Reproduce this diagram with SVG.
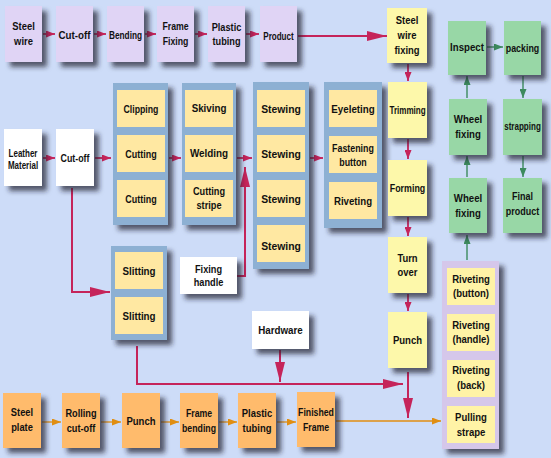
<svg xmlns="http://www.w3.org/2000/svg" width="551" height="458" viewBox="0 0 551 458">
<style>
text{font-family:"Liberation Sans",Arial,sans-serif;font-weight:bold;font-size:11.5px;fill:#111;text-anchor:middle}
.sh{filter:url(#sh)}
.pu{fill:#e0d4f5}
.pb{fill:#8db0d3}
.iy{fill:#ffe8a2}
.ry{fill:#fdf8aa}
.gr{fill:#98d7a6}
.or{fill:#ffbb6c}
.wh{fill:#ffffff}
.rp{fill:#d5c7ea}
.ry2{fill:#fff3a6}
.pk{stroke:#c5245a;stroke-width:1.8;fill:none}
.pk2{stroke:#c5245a;stroke-width:2;fill:none}
.gn{stroke:#3c8a5e;stroke-width:1.4;fill:none}
.og{stroke:#e08e12;stroke-width:1.3;fill:none}
</style>
<defs>
<filter id="sh" x="-30%" y="-30%" width="160%" height="160%">
<feDropShadow dx="5" dy="5" stdDeviation="2.8" flood-color="#223" flood-opacity="0.72"/>
</filter>
<marker id="aps" markerUnits="userSpaceOnUse" markerWidth="9" markerHeight="7" refX="9" refY="3.5" orient="auto"><path d="M0,0 L9,3.5 L0,7 z" fill="#c5245a"/></marker>
<marker id="apb" markerUnits="userSpaceOnUse" markerWidth="20" markerHeight="10" refX="20" refY="5" orient="auto"><path d="M0,0 L20,5 L0,10 z" fill="#c5245a"/></marker>
<marker id="ags" markerUnits="userSpaceOnUse" markerWidth="9" markerHeight="7" refX="9" refY="3.5" orient="auto"><path d="M0,0 L9,3.5 L0,7 z" fill="#3c8a5e"/></marker>
<marker id="aos" markerUnits="userSpaceOnUse" markerWidth="9" markerHeight="7" refX="9" refY="3.5" orient="auto"><path d="M0,0 L9,3.5 L0,7 z" fill="#e08e12"/></marker>
</defs>
<rect x="0" y="0" width="551" height="458" fill="#cddcf8"/>

<g id="connectors">
<line class="pk" x1="43" y1="34" x2="55" y2="34" marker-end="url(#aps)"/>
<line class="pk" x1="94" y1="34" x2="106" y2="34" marker-end="url(#aps)"/>
<line class="pk" x1="145" y1="34" x2="156" y2="34" marker-end="url(#aps)"/>
<line class="pk" x1="195" y1="34" x2="207" y2="34" marker-end="url(#aps)"/>
<line class="pk" x1="246" y1="34" x2="259" y2="34" marker-end="url(#aps)"/>
<line class="pk" x1="298" y1="36" x2="387" y2="36" marker-end="url(#apb)"/>
<line class="pk" x1="408" y1="64" x2="408" y2="81" marker-end="url(#aps)"/>
<line class="pk" x1="408" y1="139" x2="408" y2="159" marker-end="url(#aps)"/>
<line class="pk" x1="408" y1="217" x2="408" y2="236" marker-end="url(#aps)"/>
<line class="pk" x1="408" y1="294" x2="408" y2="311" marker-end="url(#aps)"/>
<line class="pk2" x1="408" y1="372" x2="408" y2="418" marker-end="url(#apb)"/>
<line class="pk" x1="43" y1="158" x2="55" y2="158" marker-end="url(#aps)"/>
<line class="pk" x1="95" y1="158" x2="111" y2="158" marker-end="url(#aps)"/>
<line class="pk" x1="169" y1="158" x2="181" y2="158" marker-end="url(#aps)"/>
<line class="pk" x1="237" y1="158" x2="252" y2="158" marker-end="url(#aps)"/>
<line class="pk" x1="310" y1="158" x2="323" y2="158" marker-end="url(#aps)"/>
<path class="pk2" d="M72,188 V292 H110" marker-end="url(#apb)"/>
<path class="pk2" d="M237,276 H245 V167" marker-end="url(#apb)"/>
<path class="pk2" d="M137,346 V384 H403" marker-end="url(#apb)"/>
<line class="pk2" x1="280" y1="350" x2="280" y2="382" marker-end="url(#apb)"/>
<line class="gn" x1="487" y1="47" x2="503" y2="47" marker-end="url(#ags)"/>
<line class="gn" x1="467" y1="98" x2="467" y2="76" marker-end="url(#ags)"/>
<line class="gn" x1="467" y1="177" x2="467" y2="156" marker-end="url(#ags)"/>
<line class="gn" x1="467" y1="260" x2="467" y2="235" marker-end="url(#ags)"/>
<line class="gn" x1="523" y1="76" x2="523" y2="98" marker-end="url(#ags)"/>
<line class="gn" x1="523" y1="156" x2="523" y2="177" marker-end="url(#ags)"/>
<line class="og" x1="42" y1="422" x2="61" y2="422" marker-end="url(#aos)"/>
<line class="og" x1="101" y1="422" x2="121" y2="422" marker-end="url(#aos)"/>
<line class="og" x1="161" y1="422" x2="179" y2="422" marker-end="url(#aos)"/>
<line class="og" x1="219" y1="422" x2="237" y2="422" marker-end="url(#aos)"/>
<line class="og" x1="277" y1="422" x2="296" y2="422" marker-end="url(#aos)"/>
<line class="og" x1="336" y1="421" x2="441" y2="421" marker-end="url(#aos)"/>
</g>

<!-- top row -->
<g id="steel-wire"><rect class="pu sh" x="5" y="6" width="37" height="56"/><text transform="translate(23.5 30) scale(.82 1)"><tspan x="0">Steel</tspan><tspan x="0" dy="15">wire</tspan></text></g>
<g id="cut-off-1"><rect class="pu sh" x="56" y="6" width="37" height="56"/><text transform="translate(74.5 38.5) scale(.85 1)">Cut-off</text></g>
<g id="bending"><rect class="pu sh" x="107" y="6" width="37" height="56"/><text transform="translate(125.5 38.5) scale(.72 1)">Bending</text></g>
<g id="frame-fixing"><rect class="pu sh" x="157" y="6" width="37" height="56"/><text transform="translate(175.5 30) scale(.76 1)"><tspan x="0">Frame</tspan><tspan x="0" dy="15">Fixing</tspan></text></g>
<g id="plastic-tubing-1"><rect class="pu sh" x="208" y="6" width="37" height="56"/><text transform="translate(226.5 30.5) scale(.8 1)"><tspan x="0">Plastic</tspan><tspan x="0" dy="15">tubing</tspan></text></g>
<g id="product"><rect class="pu sh" x="260" y="6" width="37" height="56"/><text transform="translate(278.5 39.5) scale(.7 1)">Product</text></g>
<g id="steel-wire-fixing"><rect class="ry sh" x="387" y="8" width="40" height="55"/><text transform="translate(407 24) scale(.82 1)"><tspan x="0">Steel</tspan><tspan x="0" dy="15">wire</tspan><tspan x="0" dy="15">fixing</tspan></text></g>

<!-- green -->
<g id="inspect"><rect class="gr sh" x="448" y="21" width="38" height="54"/><text transform="translate(467 51) scale(.84 1)">Inspect</text></g>
<g id="packing"><rect class="gr sh" x="504" y="21" width="37" height="54"/><text transform="translate(522.5 52) scale(.77 1)">packing</text></g>
<g id="wheel-fixing-1"><rect class="gr sh" x="449" y="99" width="38" height="56"/><text transform="translate(468 123) scale(.84 1)"><tspan x="0">Wheel</tspan><tspan x="0" dy="15">fixing</tspan></text></g>
<g id="strapping"><rect class="gr sh" x="503" y="99" width="39" height="56"/><text transform="translate(522.5 130) scale(.7 1)">strapping</text></g>
<g id="wheel-fixing-2"><rect class="gr sh" x="449" y="178" width="38" height="55"/><text transform="translate(468 202) scale(.84 1)"><tspan x="0">Wheel</tspan><tspan x="0" dy="15">fixing</tspan></text></g>
<g id="final-product"><rect class="gr sh" x="503" y="178" width="39" height="55"/><text transform="translate(522.5 200) scale(.78 1)"><tspan x="0">Final</tspan><tspan x="0" dy="15">product</tspan></text></g>

<!-- leather -->
<g id="leather-material"><rect class="wh sh" x="4" y="129" width="38" height="57"/><text style="font-size:10px" transform="translate(23 157) scale(.8 1)"><tspan x="0">Leather</tspan><tspan x="0" dy="12">Material</tspan></text></g>
<g id="cut-off-2"><rect class="wh sh" x="56" y="129" width="38" height="57"/><text transform="translate(75 162) scale(.77 1)">Cut-off</text></g>

<g id="panel-1"><rect class="pb sh" x="113" y="83" width="55" height="142"/>
<rect class="iy" x="117" y="90" width="48" height="37"/><text transform="translate(141 113) scale(.76 1)">Clipping</text>
<rect class="iy" x="117" y="135" width="48" height="37"/><text transform="translate(141 158) scale(.78 1)">Cutting</text>
<rect class="iy" x="117" y="180" width="48" height="37"/><text transform="translate(141 203) scale(.78 1)">Cutting</text></g>

<g id="panel-2"><rect class="pb sh" x="182" y="83" width="54" height="142"/>
<rect class="iy" x="185" y="90" width="48" height="37"/><text transform="translate(209 112) scale(.85 1)">Skiving</text>
<rect class="iy" x="185" y="135" width="48" height="37"/><text transform="translate(209 157) scale(.86 1)">Welding</text>
<rect class="iy" x="185" y="180" width="48" height="37"/><text transform="translate(209 194.5) scale(.8 1)"><tspan x="0">Cutting</tspan><tspan x="0" dy="15">stripe</tspan></text></g>

<g id="panel-3"><rect class="pb sh" x="253" y="82" width="56" height="187"/>
<rect class="iy" x="257" y="90" width="48" height="37"/><text transform="translate(281 112.5) scale(.9 1)">Stewing</text>
<rect class="iy" x="257" y="135" width="48" height="37"/><text transform="translate(281 157.5) scale(.9 1)">Stewing</text>
<rect class="iy" x="257" y="180" width="48" height="37"/><text transform="translate(281 202.5) scale(.9 1)">Stewing</text>
<rect class="iy" x="257" y="225" width="48" height="37"/><text transform="translate(281 249.5) scale(.9 1)">Stewing</text></g>

<g id="panel-4"><rect class="pb sh" x="324" y="82" width="58" height="146"/>
<rect class="iy" x="329" y="90" width="48" height="37"/><text transform="translate(353 113) scale(.85 1)">Eyeleting</text>
<rect class="iy" x="329" y="136" width="48" height="37"/><text transform="translate(353 152) scale(.77 1)"><tspan x="0">Fastening</tspan><tspan x="0" dy="14">button</tspan></text>
<rect class="iy" x="329" y="182" width="48" height="37"/><text transform="translate(353 204.5) scale(.84 1)">Riveting</text></g>

<g id="trimming"><rect class="ry sh" x="388" y="82" width="39" height="56"/><text transform="translate(407.5 114) scale(.7 1)">Trimming</text></g>
<g id="forming"><rect class="ry sh" x="388" y="160" width="39" height="56"/><text transform="translate(407.5 192) scale(.77 1)">Forming</text></g>
<g id="turn-over"><rect class="ry sh" x="388" y="237" width="39" height="56"/><text transform="translate(407.5 261.5) scale(.82 1)"><tspan x="0">Turn</tspan><tspan x="0" dy="15">over</tspan></text></g>
<g id="punch-1"><rect class="ry sh" x="388" y="312" width="39" height="56"/><text transform="translate(407.5 344) scale(.83 1)">Punch</text></g>

<g id="slitting-panel"><rect class="pb sh" x="111" y="246" width="56" height="94"/>
<rect class="iy" x="115" y="252" width="48" height="37"/><text transform="translate(139 274.5) scale(.85 1)">Slitting</text>
<rect class="iy" x="115" y="297" width="48" height="37"/><text transform="translate(139 319.5) scale(.85 1)">Slitting</text></g>

<g id="fixing-handle"><rect class="wh sh" x="180" y="257" width="57" height="37"/><text transform="translate(208.5 272.5) scale(.8 1)"><tspan x="0">Fixing</tspan><tspan x="0" dy="14">handle</tspan></text></g>
<g id="hardware"><rect class="wh sh" x="252" y="311" width="57" height="38"/><text transform="translate(280.5 334) scale(.85 1)">Hardware</text></g>

<g id="riveting-panel"><rect class="rp sh" x="442" y="261" width="57" height="188"/>
<rect class="ry2" x="447" y="268" width="48" height="37"/><text transform="translate(471 282.5) scale(.83 1)"><tspan x="0">Riveting</tspan><tspan x="0" dy="15">(button)</tspan></text>
<rect class="ry2" x="447" y="314" width="48" height="37"/><text transform="translate(471 328.5) scale(.83 1)"><tspan x="0">Riveting</tspan><tspan x="0" dy="15">(handle)</tspan></text>
<rect class="ry2" x="447" y="360" width="48" height="37"/><text transform="translate(471 374) scale(.83 1)"><tspan x="0">Riveting</tspan><tspan x="0" dy="15">(back)</tspan></text>
<rect class="ry2" x="447" y="406" width="48" height="37"/><text transform="translate(471 421) scale(.83 1)"><tspan x="0">Pulling</tspan><tspan x="0" dy="15">strape</tspan></text></g>

<!-- bottom row -->
<g id="steel-plate"><rect class="or sh" x="3" y="393" width="38" height="55"/><text transform="translate(22 416) scale(.81 1)"><tspan x="0">Steel</tspan><tspan x="0" dy="15">plate</tspan></text></g>
<g id="rolling-cut-off"><rect class="or sh" x="62" y="393" width="38" height="55"/><text transform="translate(81 417) scale(.8 1)"><tspan x="0">Rolling</tspan><tspan x="0" dy="15">cut-off</tspan></text></g>
<g id="punch-2"><rect class="or sh" x="122" y="393" width="38" height="55"/><text transform="translate(141 425) scale(.83 1)">Punch</text></g>
<g id="frame-bending"><rect class="or sh" x="180" y="393" width="38" height="55"/><text transform="translate(199 417) scale(.76 1)"><tspan x="0">Frame</tspan><tspan x="0" dy="15">bending</tspan></text></g>
<g id="plastic-tubing-2"><rect class="or sh" x="238" y="393" width="38" height="55"/><text transform="translate(257 417) scale(.82 1)"><tspan x="0">Plastic</tspan><tspan x="0" dy="15">tubing</tspan></text></g>
<g id="finished-frame"><rect class="or sh" x="297" y="392" width="38" height="55"/><text transform="translate(316 416) scale(.76 1)"><tspan x="0">Finished</tspan><tspan x="0" dy="15">Frame</tspan></text></g>
</svg>
